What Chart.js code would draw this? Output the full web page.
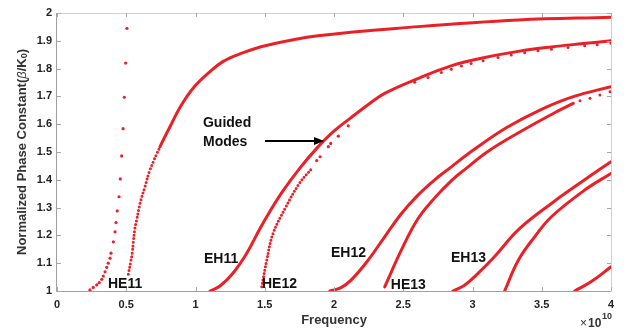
<!DOCTYPE html>
<html>
<head>
<meta charset="utf-8">
<script src="https://cdn.jsdelivr.net/npm/chart.js@4"></script>
<style>
  html, body { margin: 0; padding: 0; background: #fff; }
  #wrap { width: 638px; height: 329px; }
</style>
</head>
<body>
<div id="wrap"><canvas id="chart" width="638" height="329"></canvas></div>
<script>
// frequency in units of 1e10 Hz, normalized phase constant beta/k0
const he11X = [0.238, 0.262, 0.287, 0.305, 0.323, 0.334, 0.347, 0.359, 0.37, 0.383, 0.39, 0.407, 0.419, 0.426, 0.435, 0.448, 0.457, 0.467, 0.477, 0.486, 0.496, 0.505];
const he11Y = [1.004, 1.013, 1.022, 1.03, 1.042, 1.054, 1.069, 1.085, 1.10, 1.118, 1.136, 1.177, 1.213, 1.246, 1.288, 1.339, 1.403, 1.486, 1.584, 1.697, 1.82, 1.945];

const mainX = [0.515, 0.532, 0.544, 0.551, 0.563, 0.575, 0.6, 0.635, 0.671, 0.744, 0.816, 0.888, 0.984, 1.105, 1.2, 1.321, 1.51, 1.885, 2.61, 3.33, 4.0];
const mainY = [1.06, 1.105, 1.14, 1.176, 1.227, 1.255, 1.316, 1.375, 1.435, 1.519, 1.591, 1.66, 1.73, 1.789, 1.826, 1.853, 1.883, 1.918, 1.951, 1.975, 1.985];

const eh11X = [1.105, 1.177, 1.27, 1.37, 1.466, 1.538, 1.634, 1.755, 1.875, 1.995, 2.116, 2.248, 2.366, 2.61, 2.845, 3.09, 3.33, 3.57, 3.8, 4.0];
const eh11Y = [1.0, 1.018, 1.064, 1.136, 1.225, 1.287, 1.362, 1.443, 1.513, 1.573, 1.621, 1.671, 1.711, 1.765, 1.81, 1.84, 1.862, 1.878, 1.89, 1.90];

const he12X = [1.478, 1.514, 1.56, 1.65, 1.75, 1.839];
const he12Y = [1.015, 1.11, 1.207, 1.30, 1.387, 1.441];
const he12DotsX = [1.875, 1.90, 1.959, 1.976, 2.031, 2.103];
const he12DotsY = [1.469, 1.483, 1.519, 1.531, 1.557, 1.594];
const he12TailX = [2.583, 2.679, 2.775, 2.847, 2.92, 2.99, 3.076, 3.184, 3.28, 3.377, 3.473, 3.57, 3.69, 3.81, 3.9, 4.0];
const he12TailY = [1.751, 1.768, 1.786, 1.798, 1.809, 1.818, 1.828, 1.84, 1.849, 1.857, 1.864, 1.87, 1.876, 1.882, 1.886, 1.891];

const eh12X = [1.97, 2.05, 2.125, 2.245, 2.366, 2.486, 2.606, 2.727, 2.838, 3.006, 3.247, 3.487, 3.728, 4.0];
const eh12Y = [1.0, 1.012, 1.04, 1.11, 1.195, 1.278, 1.345, 1.40, 1.443, 1.507, 1.588, 1.651, 1.699, 1.735];

const he13X = [2.366, 2.486, 2.606, 2.727, 2.85, 2.934, 3.126, 3.367, 3.608, 3.728];
const he13Y = [1.015, 1.147, 1.26, 1.335, 1.398, 1.433, 1.507, 1.579, 1.645, 1.675];
const he13TailX = [3.776, 3.848, 3.92, 3.993];
const he13TailY = [1.684, 1.693, 1.705, 1.717];

const eh13X = [2.859, 2.94, 3.016, 3.16, 3.33, 3.57, 3.81, 4.0];
const eh13Y = [1.0, 1.02, 1.052, 1.124, 1.22, 1.315, 1.40, 1.465];

const mode7X = [3.232, 3.33, 3.449, 3.57, 3.81, 4.0];
const mode7Y = [1.0, 1.11, 1.195, 1.267, 1.363, 1.423];

const mode8X = [3.738, 3.858, 4.0];
const mode8Y = [1.0, 1.034, 1.087];

const xTicks = [0, 0.5, 1, 1.5, 2, 2.5, 3, 3.5, 4];
const yTicks = [1, 1.1, 1.2, 1.3, 1.4, 1.5, 1.6, 1.7, 1.8, 1.9, 2];

const modeLabels = [
    { text: 'HE11', x: 0.368, y: 1.025 },
    { text: 'EH11', x: 1.061, y: 1.115 },
    { text: 'HE12', x: 1.48, y: 1.025 },
    { text: 'EH12', x: 1.978, y: 1.137 },
    { text: 'HE13', x: 2.41, y: 1.022 },
    { text: 'EH13', x: 2.845, y: 1.119 }
];

const red = 'rgb(234,32,38)';
const fontFamily = "'Liberation Sans', Arial, sans-serif";
const dotted = [0, 3.6];

function pts(xs, ys) {
    return xs.map((x, i) => ({ x: x, y: ys[i] }));
}

function lineSet(xs, ys) {
    return {
        data: pts(xs, ys),
        showLine: true,
        borderColor: red,
        backgroundColor: red,
        borderWidth: 3,
        borderCapStyle: 'round',
        pointRadius: 0,
        tension: 0.4
    };
}

function dotSet(xs, ys, r) {
    return {
        data: pts(xs, ys),
        showLine: false,
        borderColor: red,
        backgroundColor: red,
        borderWidth: 0,
        pointRadius: r
    };
}

// lower part of the first guided mode is sampled sparsely, so it looks dotted
const mainSet = lineSet(mainX, mainY);
mainSet.segment = { borderDash: c => (c.p0.parsed.y < 1.48 ? dotted : undefined) };

const he12Set = lineSet(he12X, he12Y);
he12Set.borderDash = [0, 3.4];

// box, inward ticks, labels and titles
const decorations = {
    id: 'decorations',
    afterDatasetsDraw(chart) {
        const { ctx, chartArea: a, scales: { x, y } } = chart;
        ctx.save();

        ctx.lineWidth = 1;
        ctx.strokeStyle = '#d0d0d0';
        ctx.beginPath();
        ctx.moveTo(a.left, a.top + 0.5); ctx.lineTo(a.right + 0.5, a.top + 0.5);
        ctx.lineTo(a.right + 0.5, a.bottom);
        ctx.stroke();
        ctx.strokeStyle = '#a0a0a0';
        ctx.beginPath();
        ctx.moveTo(a.left - 0.5, a.top); ctx.lineTo(a.left - 0.5, a.bottom + 0.5);
        ctx.lineTo(a.right + 0.5, a.bottom + 0.5);
        ctx.stroke();

        const tl = 4;
        ctx.strokeStyle = '#a8a8a8';
        ctx.beginPath();
        xTicks.forEach(v => {
            const px = Math.round(x.getPixelForValue(v)) + 0.5;
            ctx.moveTo(px, a.bottom); ctx.lineTo(px, a.bottom - tl);
            ctx.moveTo(px, a.top); ctx.lineTo(px, a.top + tl);
        });
        yTicks.forEach(v => {
            const py = Math.round(y.getPixelForValue(v)) + 0.5;
            ctx.moveTo(a.left, py); ctx.lineTo(a.left + tl, py);
            ctx.moveTo(a.right, py); ctx.lineTo(a.right - tl, py);
        });
        ctx.stroke();

        ctx.fillStyle = '#111';
        ctx.font = 'bold 14px ' + fontFamily;
        ctx.textBaseline = 'middle';
        ctx.textAlign = 'left';
        modeLabels.forEach(l => {
            ctx.fillText(l.text, x.getPixelForValue(l.x), y.getPixelForValue(l.y));
        });
        ctx.fillText('Guided', x.getPixelForValue(1.054), y.getPixelForValue(1.604));
        ctx.fillText('Modes', x.getPixelForValue(1.054), y.getPixelForValue(1.536));

        // arrow
        const ax0 = x.getPixelForValue(1.502), ax1 = x.getPixelForValue(1.928);
        const ay = y.getPixelForValue(1.54);
        ctx.strokeStyle = '#000';
        ctx.lineWidth = 2;
        ctx.beginPath();
        ctx.moveTo(ax0, ay); ctx.lineTo(ax1 - 8, ay);
        ctx.stroke();
        ctx.fillStyle = '#000';
        ctx.beginPath();
        ctx.moveTo(ax1, ay); ctx.lineTo(ax1 - 10, ay - 4); ctx.lineTo(ax1 - 10, ay + 4);
        ctx.closePath();
        ctx.fill();

        // x title and exponent
        ctx.fillStyle = '#333';
        ctx.font = 'bold 13px ' + fontFamily;
        ctx.textAlign = 'center';
        ctx.fillText('Frequency', (a.left + a.right) / 2, 320);

        ctx.textAlign = 'left';
        ctx.font = '12px ' + fontFamily;
        ctx.fillText('\u00d7', 580, 324);
        ctx.font = 'bold 12px ' + fontFamily;
        ctx.fillText('10', 588, 324);
        ctx.font = 'bold 9px ' + fontFamily;
        ctx.fillText('10', 602, 317);

        // y title with italic beta and subscript
        ctx.translate(22, (a.top + a.bottom) / 2);
        ctx.rotate(-Math.PI / 2);
        const parts = [
            { t: 'Normalized Phase Constant(', f: 'bold 13px ' + fontFamily, dy: 0 },
            { t: '\u03b2', f: 'italic 13px ' + fontFamily, dy: 0 },
            { t: '/K', f: 'bold 13px ' + fontFamily, dy: 0 },
            { t: '0', f: 'bold 9px ' + fontFamily, dy: 3 },
            { t: ')', f: 'bold 13px ' + fontFamily, dy: 0 }
        ];
        let total = 0;
        parts.forEach(p => { ctx.font = p.f; total += ctx.measureText(p.t).width; });
        let cx = -total / 2;
        parts.forEach(p => {
            ctx.font = p.f;
            ctx.fillText(p.t, cx, p.dy);
            cx += ctx.measureText(p.t).width;
        });
        ctx.restore();
    }
};

new Chart(document.getElementById('chart'), {
    type: 'scatter',
    data: {
        datasets: [
            dotSet(he11X, he11Y, 1.6),
            mainSet,
            lineSet(eh11X, eh11Y),
            he12Set,
            dotSet(he12DotsX, he12DotsY, 1.6),
            dotSet(he12TailX, he12TailY, 1.5),
            lineSet(eh12X, eh12Y),
            lineSet(he13X, he13Y),
            dotSet(he13TailX, he13TailY, 1.5),
            lineSet(eh13X, eh13Y),
            lineSet(mode7X, mode7Y),
            lineSet(mode8X, mode8Y)
        ]
    },
    options: {
        responsive: false,
        animation: false,
        layout: { padding: { left: 0, top: 13, right: 27, bottom: 0 } },
        plugins: { legend: { display: false }, tooltip: { enabled: false } },
        scales: {
            x: {
                type: 'linear',
                min: 0, max: 4,
                afterFit: s => { s.height = 38; },
                afterBuildTicks: s => { s.ticks = xTicks.map(v => ({ value: v })); },
                grid: { display: false, drawTicks: false },
                border: { display: false },
                ticks: {
                    padding: 7,
                    color: '#222',
                    font: { family: fontFamily, size: 11, weight: 'bold' },
                    callback: v => String(Number(v.toFixed(1)))
                }
            },
            y: {
                type: 'linear',
                min: 1, max: 2,
                afterFit: s => { s.width = 57; },
                afterBuildTicks: s => { s.ticks = yTicks.map(v => ({ value: v })); },
                grid: { display: false, drawTicks: false },
                border: { display: false },
                ticks: {
                    padding: 5,
                    color: '#222',
                    font: { family: fontFamily, size: 11, weight: 'bold' },
                    callback: v => String(Number(v.toFixed(1)))
                }
            }
        }
    },
    plugins: [decorations]
});
</script>
</body>
</html>
